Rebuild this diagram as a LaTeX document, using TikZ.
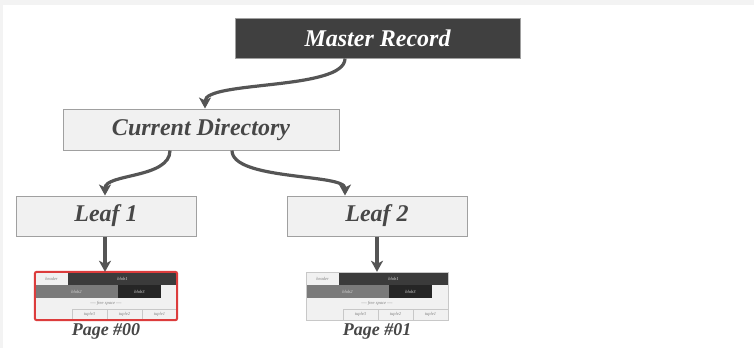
\documentclass[tikz,border=0pt]{standalone}
\usepackage{fontspec}
\setmainfont{Liberation Serif}
\usetikzlibrary{arrows.meta}
\definecolor{txtgrey}{HTML}{474747}
\definecolor{boxfill}{HTML}{F1F1F1}
\definecolor{boxline}{HTML}{A0A0A0}
\definecolor{darkfill}{HTML}{404040}
\definecolor{arrowc}{HTML}{555555}
\definecolor{redline}{HTML}{DC3C3C}
\definecolor{bgstrip}{HTML}{F3F3F3}
\definecolor{cellline}{HTML}{C8C8C8}
\tikzset{
  lightbox/.style={draw=boxline, line width=1pt, fill=boxfill, text=txtgrey, font=\fontsize{24}{26}\selectfont\bfseries\itshape, inner sep=0pt},
  darkbox/.style={draw=boxline, line width=1pt, fill=darkfill, text=white, font=\fontsize{24}{26}\selectfont\bfseries\itshape, inner sep=0pt},
  link/.style={draw=arrowc, line width=3.2pt, -{Stealth[length=11pt,width=12pt,inset=3pt]}},
  pagebox/.style={fill=boxfill, inner sep=0pt},
  pagelabel/.style={text=txtgrey, font=\fontsize{18}{20}\selectfont\bfseries\itshape, inner sep=0pt},
  celltext/.style={font=\fontsize{4.5}{5}\selectfont\itshape, inner sep=0pt},
}
\newcommand\pagecells[1]{%
  \begin{scope}[shift={(#1)}]
    \fill[boxfill] (0,0) rectangle (142,13);
    \node[celltext, text=gray] (hd) at (16.5,6.5) {header};
    \fill[HTML3A3A3A] (33,0) rectangle (142,13);
    \node[celltext, text=white!85!black] at (87.5,6.5) {blob1};
    \fill[HTML7B7B7B] (0,13) rectangle (83,26);
    \node[celltext, text=white!85!black] at (41.5,19.5) {blob2};
    \fill[HTML262626] (83,13) rectangle (126,26);
    \node[celltext, text=white!85!black] at (104.5,19.5) {blob3};
    \node[celltext, text=gray] at (71,31.5) {---- free space ----};
    \draw[cellline, line width=0.5pt] (37,48) -- (37,37) -- (142,37);
    \draw[cellline, line width=0.5pt] (72,37) -- (72,48) (107,37) -- (107,48);
    \node[celltext, text=gray] at (54.5,42.5) {tuple3};
    \node[celltext, text=gray] at (89.5,42.5) {tuple2};
    \node[celltext, text=gray] at (124.5,42.5) {tuple1};
  \end{scope}%
}
\colorlet{HTML3A3A3A}{black!77}
\colorlet{HTML7B7B7B}{black!52}
\colorlet{HTML262626}{black!85}
\begin{document}
\begin{tikzpicture}[x=1pt, y=-1pt]
  \useasboundingbox (0,0) rectangle (754,348);
  \fill[bgstrip] (0,0) rectangle (754,348);
  \fill[white] (3,5) rectangle (754,348);

  \node[darkbox, minimum width=285pt, minimum height=40pt] (mr) at (377.5,38) {Master Record};
  \node[lightbox, minimum width=276pt, minimum height=41pt] (cd) at (201,129.5) {Current Directory};
  \node[lightbox, minimum width=180pt, minimum height=40pt] (l1) at (106,216) {Leaf 1};
  \node[lightbox, minimum width=180pt, minimum height=40pt] (l2) at (377,216) {Leaf 2};

  \node[pagebox, minimum width=142pt, minimum height=48pt] (p0) at (106,296) {};
  \pagecells{35,272}
  \draw[redline, line width=2pt, rounded corners=2pt] (p0.north west) rectangle (p0.south east);
  \node[pagebox, minimum width=142pt, minimum height=48pt] (p1) at (377,296) {};
  \pagecells{306,272}
  \draw[cellline, line width=0.6pt] (p1.north west) rectangle (p1.south east);

  \node[pagelabel] (pl0) at (106,331) {Page \#00};
  \node[pagelabel] (pl1) at (377,331) {Page \#01};

  \draw[link] ([xshift=-32.5pt]mr.south) .. controls +(0,32) and +(0,-28) .. ([xshift=4pt]cd.north);
  \draw[link] ([xshift=-31pt]cd.south) .. controls +(0,28) and +(0,-22) .. ([xshift=-1pt]l1.north);
  \draw[link] ([xshift=31pt]cd.south) .. controls +(0,30) and +(0,-22) .. ([xshift=-32pt]l2.north);
  \draw[link] ([xshift=-1pt]l1.south) -- ([xshift=-1pt]p0.north);
  \draw[link] (l2.south) -- (p1.north);
\end{tikzpicture}
\end{document}
